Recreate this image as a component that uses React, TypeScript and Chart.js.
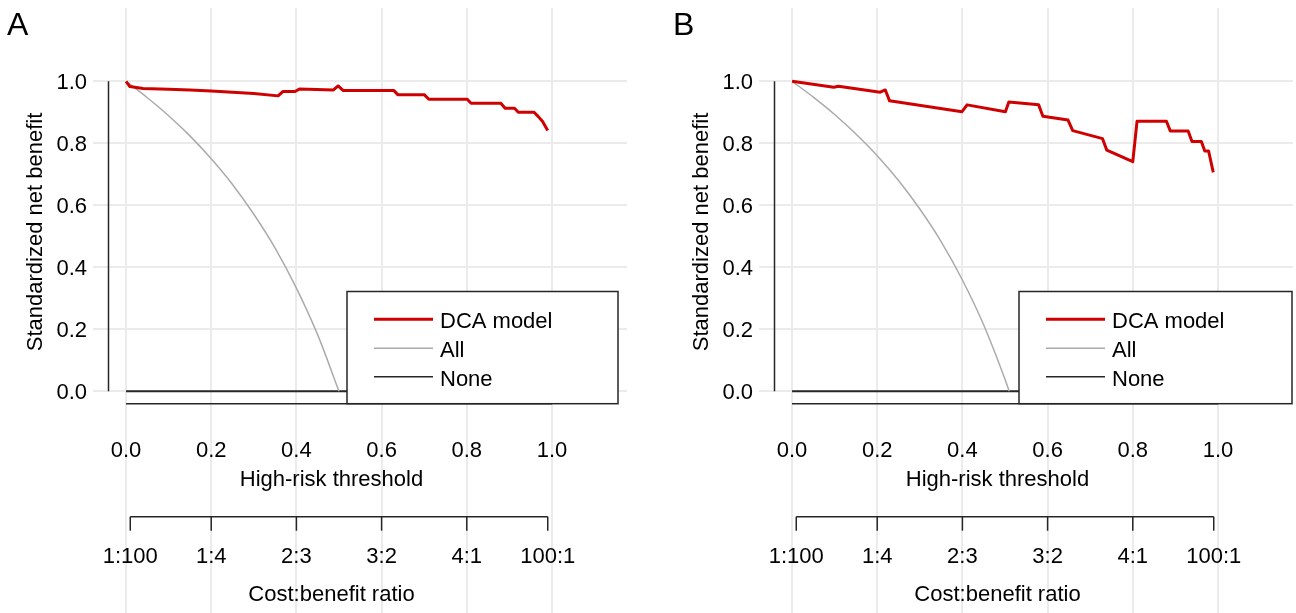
import React, { useEffect, useRef } from "react";
import { Chart, registerables } from "chart.js";

Chart.register(...registerables);

// ---------- data ----------
const xTicks = [0, 0.2, 0.4, 0.6, 0.8, 1.0];
const xTickLabels = ["0.0", "0.2", "0.4", "0.6", "0.8", "1.0"];
const yTicks = [0, 0.2, 0.4, 0.6, 0.8, 1.0];
const yTickLabels = ["0.0", "0.2", "0.4", "0.6", "0.8", "1.0"];
const costTicks = [0.0099, 0.2, 0.4, 0.6, 0.8, 0.9901];
const costTickLabels = ["1:100", "1:4", "2:3", "3:2", "4:1", "100:1"];
const seriesNames = ["DCA model", "All", "None"];
const xTitle = "High-risk threshold";
const yTitle = "Standardized net benefit";
const costTitle = "Cost:benefit ratio";

const thresholdA = [0, 0.009, 0.04, 0.1, 0.15, 0.2, 0.25, 0.3, 0.357, 0.368, 0.397, 0.407, 0.487, 0.498, 0.51, 0.629, 0.638, 0.7, 0.711, 0.801, 0.81, 0.88, 0.89, 0.912, 0.921, 0.958, 0.968, 0.978, 0.99];
const modelA = [1.0, 0.983, 0.977, 0.974, 0.972, 0.969, 0.965, 0.961, 0.953, 0.967, 0.967, 0.975, 0.972, 0.985, 0.97, 0.97, 0.957, 0.957, 0.942, 0.942, 0.929, 0.929, 0.913, 0.913, 0.9, 0.9, 0.886, 0.87, 0.841];
const allThresholdA = [0, 0.05, 0.1, 0.15, 0.2, 0.25, 0.3, 0.35, 0.4, 0.45, 0.5];
const allA = [1.0, 0.947, 0.889, 0.824, 0.75, 0.667, 0.571, 0.462, 0.333, 0.182, 0.0];

const thresholdB = [0, 0.098, 0.109, 0.207, 0.219, 0.229, 0.399, 0.411, 0.501, 0.509, 0.579, 0.589, 0.648, 0.659, 0.729, 0.739, 0.8, 0.81, 0.879, 0.888, 0.93, 0.939, 0.961, 0.969, 0.978, 0.989];
const modelB = [1.0, 0.981, 0.984, 0.965, 0.972, 0.937, 0.902, 0.924, 0.902, 0.933, 0.924, 0.887, 0.875, 0.841, 0.815, 0.778, 0.741, 0.871, 0.871, 0.84, 0.84, 0.806, 0.806, 0.775, 0.775, 0.706];
const allThresholdB = [0, 0.05, 0.1, 0.15, 0.2, 0.25, 0.3, 0.35, 0.4, 0.45, 0.5, 0.51];
const allB = [1.0, 0.949, 0.893, 0.83, 0.76, 0.68, 0.588, 0.483, 0.359, 0.214, 0.039, 0.0];

const noneThreshold = [0, 1];
const noneValues = [0, 0];

// ---------- styles ----------
const FONT = '"Liberation Sans", Arial, Helvetica, sans-serif';
const RED = "#cf0000";
const GRAY = "#ababab";
const DARK = "#262626";
const GRID = "#ebebeb";

const toPoints = (xs: number[], ys: number[]) => xs.map((x, i) => ({ x, y: ys[i] }));

type PanelCfg = {
  letter: string;
  left: number;
  width: number;
  legendLeft: number;
  legendRight: number;
  threshold: number[];
  model: number[];
  allThreshold: number[];
  all: number[];
};

const panels: PanelCfg[] = [
  { letter: "A", left: 0, width: 666, legendLeft: 347, legendRight: 618, threshold: thresholdA, model: modelA, allThreshold: allThresholdA, all: allA },
  { letter: "B", left: 666, width: 630, legendLeft: 353, legendRight: 626, threshold: thresholdB, model: modelB, allThreshold: allThresholdB, all: allB },
];

function makePlugin(cfg: PanelCfg) {
  return {
    id: "dcaDecor" + cfg.letter,
    beforeDatasetsDraw(chart: any) {
      const ctx = chart.ctx;
      const xs = chart.scales.x;
      const ys = chart.scales.y;
      const x0 = xs.getPixelForValue(0);
      ctx.save();
      ctx.strokeStyle = GRID;
      ctx.lineWidth = 2;
      for (const t of xTicks) {
        const px = Math.round(xs.getPixelForValue(t));
        ctx.beginPath();
        ctx.moveTo(px, 8);
        ctx.lineTo(px, chart.height);
        ctx.stroke();
      }
      for (const v of yTicks) {
        const py = Math.round(ys.getPixelForValue(v));
        ctx.beginPath();
        ctx.moveTo(x0 - 33, py);
        ctx.lineTo(x0 + 501, py);
        ctx.stroke();
      }
      ctx.restore();
    },
    afterDatasetsDraw(chart: any) {
      const ctx = chart.ctx;
      const xs = chart.scales.x;
      const ys = chart.scales.y;
      const area = chart.chartArea;
      const x0 = xs.getPixelForValue(0);
      const x1 = xs.getPixelForValue(1);
      const y0 = ys.getPixelForValue(0);
      const y1 = ys.getPixelForValue(1);
      ctx.save();
      // axis lines
      ctx.strokeStyle = DARK;
      ctx.lineWidth = 1.5;
      ctx.beginPath();
      ctx.moveTo(area.left - 0.5, y1);
      ctx.lineTo(area.left - 0.5, y0);
      ctx.stroke();
      ctx.beginPath();
      ctx.moveTo(x0, area.bottom);
      ctx.lineTo(x1, area.bottom);
      ctx.stroke();

      ctx.fillStyle = "#000";
      ctx.font = `22px ${FONT}`;
      ctx.textBaseline = "alphabetic";
      // y tick labels
      ctx.textAlign = "right";
      yTicks.forEach((v, i) => {
        ctx.fillText(yTickLabels[i], x0 - 39, ys.getPixelForValue(v) + 8);
      });
      // x tick labels
      ctx.textAlign = "center";
      xTicks.forEach((t, i) => {
        ctx.fillText(xTickLabels[i], xs.getPixelForValue(t), area.bottom + 53);
      });
      const midX = (area.left + area.right) / 2 - 7.5;
      ctx.fillText(xTitle, midX, area.bottom + 82);

      // cost:benefit axis
      const cbY = area.bottom + 113;
      const cL = xs.getPixelForValue(costTicks[0]);
      const cR = xs.getPixelForValue(costTicks[costTicks.length - 1]);
      ctx.beginPath();
      ctx.moveTo(cL, cbY);
      ctx.lineTo(cR, cbY);
      ctx.stroke();
      costTicks.forEach((t, i) => {
        const px = xs.getPixelForValue(t);
        ctx.beginPath();
        ctx.moveTo(px, cbY);
        ctx.lineTo(px, cbY + 14);
        ctx.stroke();
        ctx.fillText(costTickLabels[i], px, area.bottom + 159);
      });
      ctx.fillText(costTitle, midX, area.bottom + 197);

      // y title
      ctx.save();
      ctx.translate(42, 232);
      ctx.rotate(-Math.PI / 2);
      ctx.textAlign = "center";
      ctx.fillText(yTitle, 0, 0);
      ctx.restore();

      // panel letter
      ctx.font = `32px ${FONT}`;
      ctx.textAlign = "left";
      ctx.fillText(cfg.letter, 7, 35);

      // legend
      const lt = 291.5;
      const lb = area.bottom;
      ctx.fillStyle = "#fff";
      ctx.fillRect(cfg.legendLeft, lt, cfg.legendRight - cfg.legendLeft, lb - lt);
      ctx.strokeStyle = DARK;
      ctx.lineWidth = 1.5;
      ctx.strokeRect(cfg.legendLeft, lt, cfg.legendRight - cfg.legendLeft, lb - lt);
      const rows = [319.3, 348.3, 376.7];
      const colors = [RED, GRAY, DARK];
      const widths = [3, 1.5, 1.5];
      ctx.font = `22px ${FONT}`;
      rows.forEach((ry, i) => {
        ctx.strokeStyle = colors[i];
        ctx.lineWidth = widths[i];
        ctx.beginPath();
        ctx.moveTo(cfg.legendLeft + 27, ry);
        ctx.lineTo(cfg.legendLeft + 86, ry);
        ctx.stroke();
        ctx.fillStyle = "#000";
        ctx.textAlign = "left";
        ctx.fillText(seriesNames[i], cfg.legendLeft + 93, ry + 9);
      });
      ctx.restore();
    },
  };
}

function Panel({ cfg }: { cfg: PanelCfg }) {
  const ref = useRef<HTMLCanvasElement>(null);
  useEffect(() => {
    if (!ref.current) return;
    const chart = new Chart(ref.current, {
      type: "line",
      data: {
        datasets: [
          {
            label: seriesNames[0],
            data: toPoints(cfg.threshold, cfg.model),
            borderColor: RED,
            borderWidth: 3,
            pointRadius: 0,
            tension: 0,
            borderJoinStyle: "round",
          },
          {
            label: seriesNames[1],
            data: toPoints(cfg.allThreshold, cfg.all),
            borderColor: GRAY,
            borderWidth: 1.5,
            pointRadius: 0,
            cubicInterpolationMode: "monotone",
          },
          {
            label: seriesNames[2],
            data: toPoints(noneThreshold, noneValues),
            borderColor: DARK,
            borderWidth: 2,
            pointRadius: 0,
          },
        ],
      } as any,
      options: {
        animation: false,
        responsive: false,
        devicePixelRatio: 1,
        events: [],
        layout: {
          padding: { left: 109, right: cfg.width - 569, top: 68.9, bottom: 613 - 403.7 },
        },
        scales: {
          x: { type: "linear", min: -0.04, max: 1.04, display: false },
          y: { type: "linear", min: -0.04, max: 1.04, display: false },
        },
        plugins: { legend: { display: false }, tooltip: { enabled: false } },
      } as any,
      plugins: [makePlugin(cfg)],
    });
    return () => chart.destroy();
  }, [cfg]);
  return (
    <canvas
      ref={ref}
      width={cfg.width}
      height={613}
      style={{ position: "absolute", left: cfg.left, top: 0, width: cfg.width, height: 613 }}
    />
  );
}

export default function App() {
  return (
    <div
      style={{
        position: "fixed",
        left: 0,
        top: 0,
        width: 1296,
        height: 613,
        background: "#fff",
        overflow: "hidden",
      }}
    >
      {panels.map((p) => (
        <Panel key={p.letter} cfg={p} />
      ))}
    </div>
  );
}
